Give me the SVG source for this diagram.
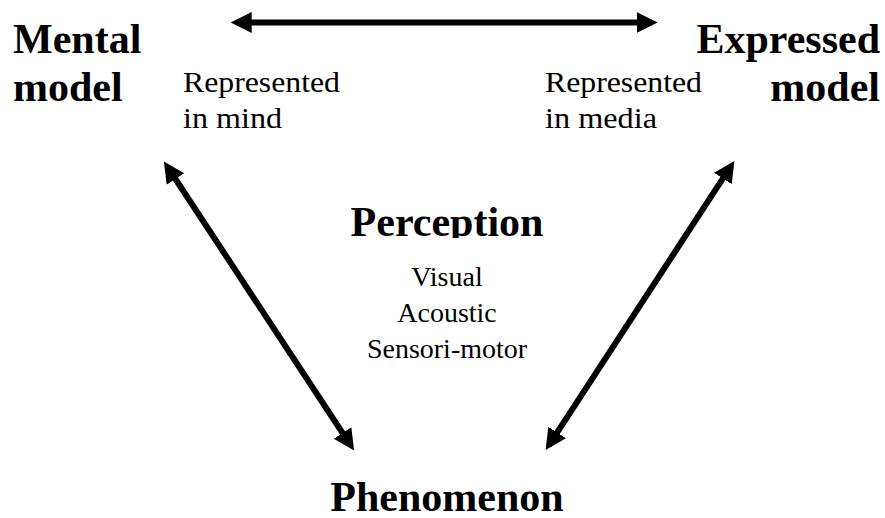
<svg xmlns="http://www.w3.org/2000/svg" width="885" height="518" viewBox="0 0 885 518">
<style>
text{font-family:'Liberation Serif','Times New Roman',Tinos,serif;fill:#000}
.b{font-weight:bold;font-size:42px}
.r{font-size:28px}
.t{font-size:30px}
.c{text-anchor:middle}
.e{text-anchor:end}
.ln{stroke:#000;stroke-width:6;fill:none}
</style>
<defs>
<marker id="ah" markerUnits="userSpaceOnUse" markerWidth="24" markerHeight="24" viewBox="0 -12 24 24" refX="15" refY="0" orient="auto-start-reverse">
<path d="M0,-10.5 L21,0 L0,10.5 Z" fill="#000"/>
</marker>
<clipPath id="pc"><rect x="0" y="0" width="885" height="238"/></clipPath>
</defs>
<rect width="885" height="518" fill="#fff"/>
<g id="connectors">
<line class="ln" x1="236.7" y1="22.5" x2="651.7" y2="22.5" marker-start="url(#ah)" marker-end="url(#ah)"/>
<line class="ln" x1="167.2" y1="166.5" x2="350.8" y2="445.5" marker-start="url(#ah)" marker-end="url(#ah)"/>
<line class="ln" x1="731.1" y1="165.9" x2="548.9" y2="445.1" marker-start="url(#ah)" marker-end="url(#ah)"/>
</g>
<g id="mental">
<text class="b" x="13" y="53">Mental</text>
<text class="b" x="13" y="101">model</text>
<text class="t" x="183" y="92" textLength="157" lengthAdjust="spacingAndGlyphs">Represented</text>
<text class="t" x="183" y="128" textLength="99" lengthAdjust="spacingAndGlyphs">in mind</text>
</g>
<g id="expressed">
<text class="b e" x="880" y="53">Expressed</text>
<text class="b e" x="880" y="101">model</text>
<text class="t" x="545" y="92" textLength="157" lengthAdjust="spacingAndGlyphs">Represented</text>
<text class="t" x="545" y="128" textLength="112" lengthAdjust="spacingAndGlyphs">in media</text>
</g>
<g id="perception">
<text class="b c" x="447" y="236" clip-path="url(#pc)">Perception</text>
<text class="r c" x="447" y="286">Visual</text>
<text class="r c" x="447" y="322">Acoustic</text>
<text class="r c" x="447" y="358">Sensori-motor</text>
</g>
<g id="phenomenon">
<text class="b c" x="447" y="511">Phenomenon</text>
</g>
</svg>
